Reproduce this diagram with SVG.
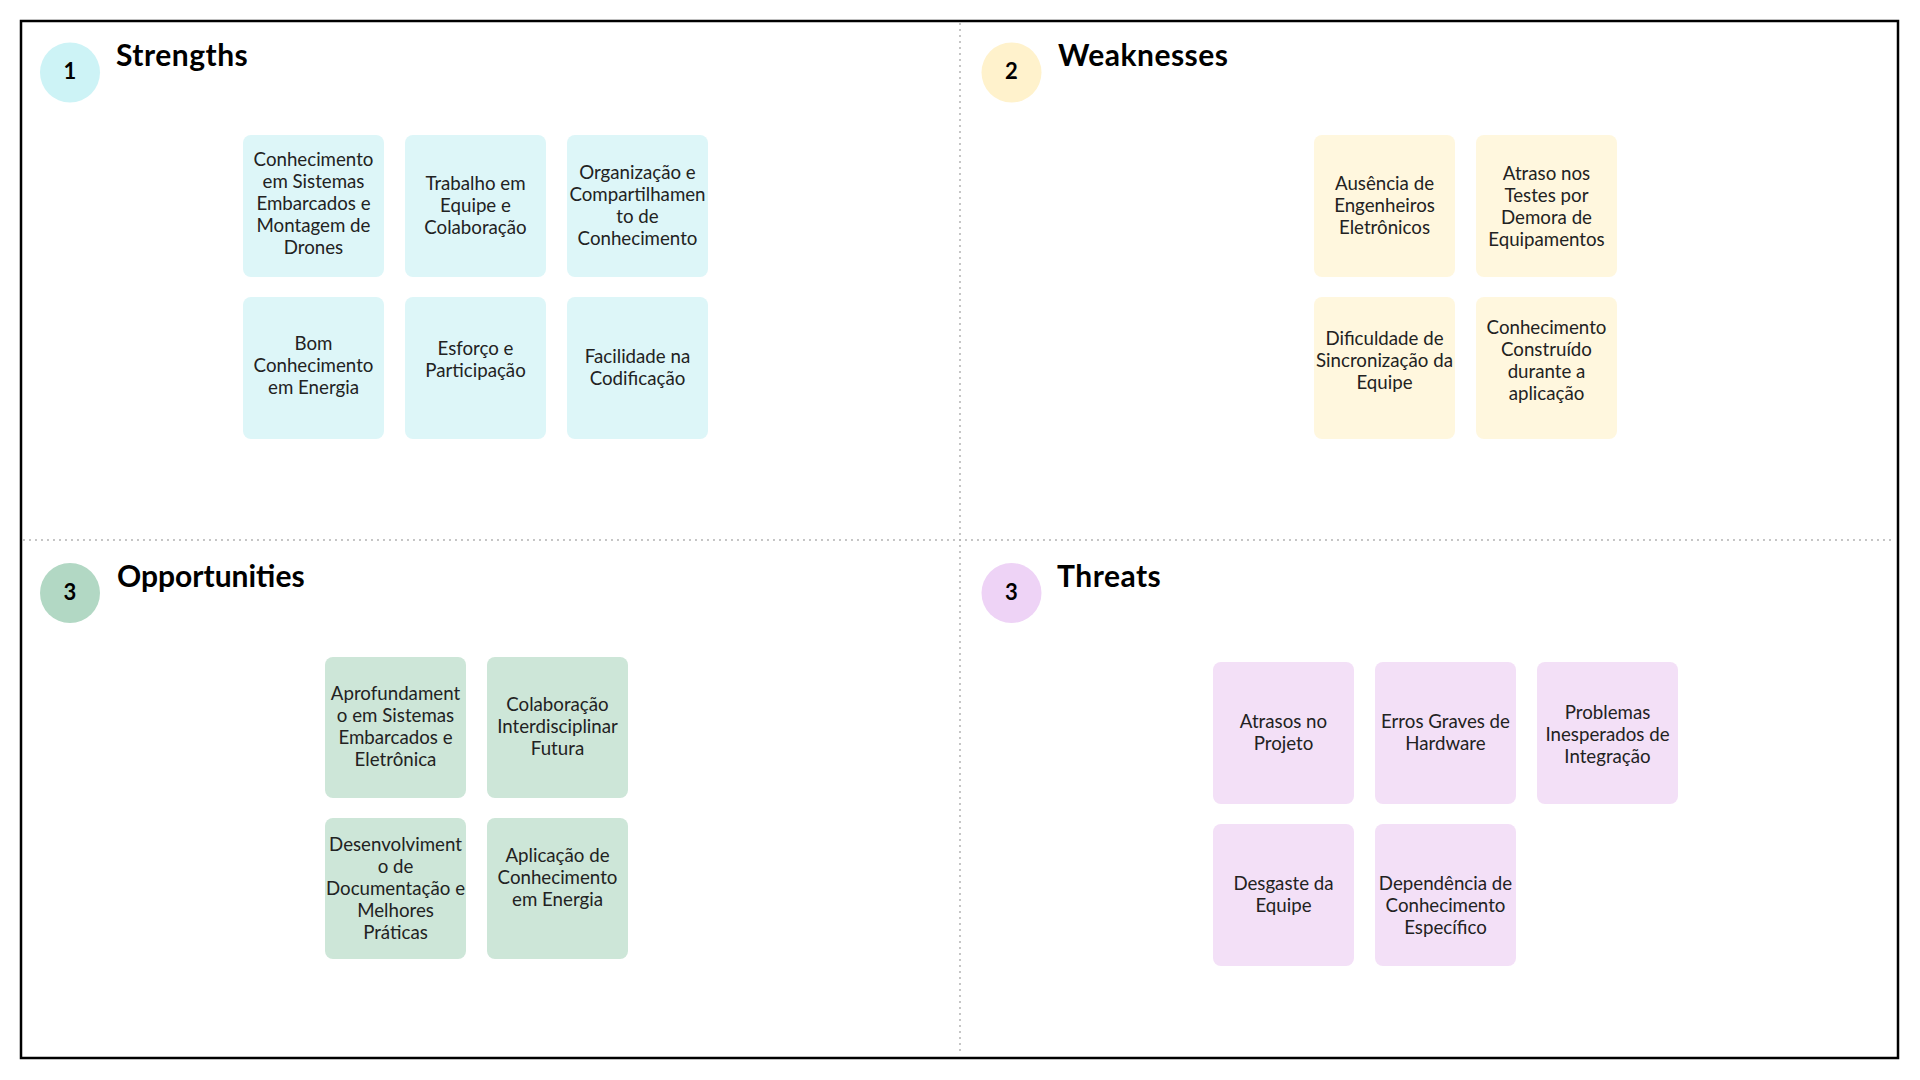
<svg xmlns="http://www.w3.org/2000/svg" width="1920" height="1080" viewBox="0 0 1920 1080">
<style>
.frame{fill:none;stroke:#000;stroke-width:2.5}
.div{stroke:#b3b3b3;stroke-width:2;stroke-linecap:round;stroke-dasharray:0 6;fill:none}
.title{font-family:Lato,"Liberation Sans",sans-serif;font-weight:700;font-size:30px;letter-spacing:0.5px;fill:#000}
.num{font-family:Lato,"Liberation Sans",sans-serif;font-weight:700;font-size:22px;fill:#000;text-anchor:middle}
.t{font-family:Lato,"Liberation Sans",sans-serif;font-size:18.7px;fill:#222;text-anchor:middle}
.s{fill:#ddf6f8}.sc{fill:#cdf3f6}
.w{fill:#fff7de}.wc{fill:#fff2cc}
.o{fill:#cde6d8}.oc{fill:#b2d8c4}
.h{fill:#f3e0f7}.hc{fill:#eed3f6}
</style>
<rect width="1920" height="1080" fill="#fff"/>
<rect class="frame" x="21" y="21" width="1877" height="1037"/>
<g id="dividers">
<line class="div" x1="960" y1="24" x2="960" y2="1055"/>
<line class="div" x1="24" y1="540" x2="1895" y2="540"/>
</g>
<g id="connectors"></g>

<g id="strengths-header">
<circle class="sc" cx="70" cy="72.5" r="30"/>
<text class="num" x="70" y="79">1</text>
<text class="title" x="116" y="66">Strengths</text>
</g>
<g id="s1"><rect class="s" x="243" y="135" width="141" height="142" rx="8"/>
<text class="t"><tspan x="313.5" y="166">Conhecimento</tspan><tspan x="313.5" y="188">em Sistemas</tspan><tspan x="313.5" y="210">Embarcados e</tspan><tspan x="313.5" y="232">Montagem de</tspan><tspan x="313.5" y="254">Drones</tspan></text></g>
<g id="s2"><rect class="s" x="405" y="135" width="141" height="142" rx="8"/>
<text class="t"><tspan x="475.5" y="190">Trabalho em</tspan><tspan x="475.5" y="212">Equipe e</tspan><tspan x="475.5" y="234">Colaboração</tspan></text></g>
<g id="s3"><rect class="s" x="567" y="135" width="141" height="142" rx="8"/>
<text class="t"><tspan x="637.5" y="179">Organização e</tspan><tspan x="637.5" y="201">Compartilhamen</tspan><tspan x="637.5" y="223">to de</tspan><tspan x="637.5" y="245">Conhecimento</tspan></text></g>
<g id="s4"><rect class="s" x="243" y="297" width="141" height="142" rx="8"/>
<text class="t"><tspan x="313.5" y="350">Bom</tspan><tspan x="313.5" y="372">Conhecimento</tspan><tspan x="313.5" y="394">em Energia</tspan></text></g>
<g id="s5"><rect class="s" x="405" y="297" width="141" height="142" rx="8"/>
<text class="t"><tspan x="475.5" y="355">Esforço e</tspan><tspan x="475.5" y="377">Participação</tspan></text></g>
<g id="s6"><rect class="s" x="567" y="297" width="141" height="142" rx="8"/>
<text class="t"><tspan x="637.5" y="363">Facilidade na</tspan><tspan x="637.5" y="385">Codificação</tspan></text></g>

<g id="weaknesses-header">
<circle class="wc" cx="1011.5" cy="72.5" r="30"/>
<text class="num" x="1011.5" y="79">2</text>
<text class="title" x="1058" y="66">Weaknesses</text>
</g>
<g id="w1"><rect class="w" x="1314" y="135" width="141" height="142" rx="8"/>
<text class="t"><tspan x="1384.5" y="190">Ausência de</tspan><tspan x="1384.5" y="212">Engenheiros</tspan><tspan x="1384.5" y="234">Eletrônicos</tspan></text></g>
<g id="w2"><rect class="w" x="1476" y="135" width="141" height="142" rx="8"/>
<text class="t"><tspan x="1546.5" y="180">Atraso nos</tspan><tspan x="1546.5" y="202">Testes por</tspan><tspan x="1546.5" y="224">Demora de</tspan><tspan x="1546.5" y="246">Equipamentos</tspan></text></g>
<g id="w3"><rect class="w" x="1314" y="297" width="141" height="142" rx="8"/>
<text class="t"><tspan x="1384.5" y="345">Dificuldade de</tspan><tspan x="1384.5" y="367">Sincronização da</tspan><tspan x="1384.5" y="389">Equipe</tspan></text></g>
<g id="w4"><rect class="w" x="1476" y="297" width="141" height="142" rx="8"/>
<text class="t"><tspan x="1546.5" y="334">Conhecimento</tspan><tspan x="1546.5" y="356">Construído</tspan><tspan x="1546.5" y="378">durante a</tspan><tspan x="1546.5" y="400">aplicação</tspan></text></g>

<g id="opportunities-header">
<circle class="oc" cx="70" cy="593" r="30"/>
<text class="num" x="70" y="600">3</text>
<text class="title" x="117" y="587" style="letter-spacing:0">Opportunities</text>
</g>
<g id="o1"><rect class="o" x="325" y="657" width="141" height="141" rx="8"/>
<text class="t"><tspan x="395.5" y="700">Aprofundament</tspan><tspan x="395.5" y="722">o em Sistemas</tspan><tspan x="395.5" y="744">Embarcados e</tspan><tspan x="395.5" y="766">Eletrônica</tspan></text></g>
<g id="o2"><rect class="o" x="487" y="657" width="141" height="141" rx="8"/>
<text class="t"><tspan x="557.5" y="711">Colaboração</tspan><tspan x="557.5" y="733">Interdisciplinar</tspan><tspan x="557.5" y="755">Futura</tspan></text></g>
<g id="o3"><rect class="o" x="325" y="818" width="141" height="141" rx="8"/>
<text class="t"><tspan x="395.5" y="851">Desenvolviment</tspan><tspan x="395.5" y="873">o de</tspan><tspan x="395.5" y="895">Documentação e</tspan><tspan x="395.5" y="917">Melhores</tspan><tspan x="395.5" y="939">Práticas</tspan></text></g>
<g id="o4"><rect class="o" x="487" y="818" width="141" height="141" rx="8"/>
<text class="t"><tspan x="557.5" y="862">Aplicação de</tspan><tspan x="557.5" y="884">Conhecimento</tspan><tspan x="557.5" y="906">em Energia</tspan></text></g>

<g id="threats-header">
<circle class="hc" cx="1011.5" cy="593" r="30"/>
<text class="num" x="1011.5" y="600">3</text>
<text class="title" x="1057" y="587">Threats</text>
</g>
<g id="t1"><rect class="h" x="1213" y="662" width="141" height="142" rx="8"/>
<text class="t"><tspan x="1283.5" y="728">Atrasos no</tspan><tspan x="1283.5" y="750">Projeto</tspan></text></g>
<g id="t2"><rect class="h" x="1375" y="662" width="141" height="142" rx="8"/>
<text class="t"><tspan x="1445.5" y="728">Erros Graves de</tspan><tspan x="1445.5" y="750">Hardware</tspan></text></g>
<g id="t3"><rect class="h" x="1537" y="662" width="141" height="142" rx="8"/>
<text class="t"><tspan x="1607.5" y="719">Problemas</tspan><tspan x="1607.5" y="741">Inesperados de</tspan><tspan x="1607.5" y="763">Integração</tspan></text></g>
<g id="t4"><rect class="h" x="1213" y="824" width="141" height="142" rx="8"/>
<text class="t"><tspan x="1283.5" y="890">Desgaste da</tspan><tspan x="1283.5" y="912">Equipe</tspan></text></g>
<g id="t5"><rect class="h" x="1375" y="824" width="141" height="142" rx="8"/>
<text class="t"><tspan x="1445.5" y="890">Dependência de</tspan><tspan x="1445.5" y="912">Conhecimento</tspan><tspan x="1445.5" y="934">Específico</tspan></text></g>
</svg>
